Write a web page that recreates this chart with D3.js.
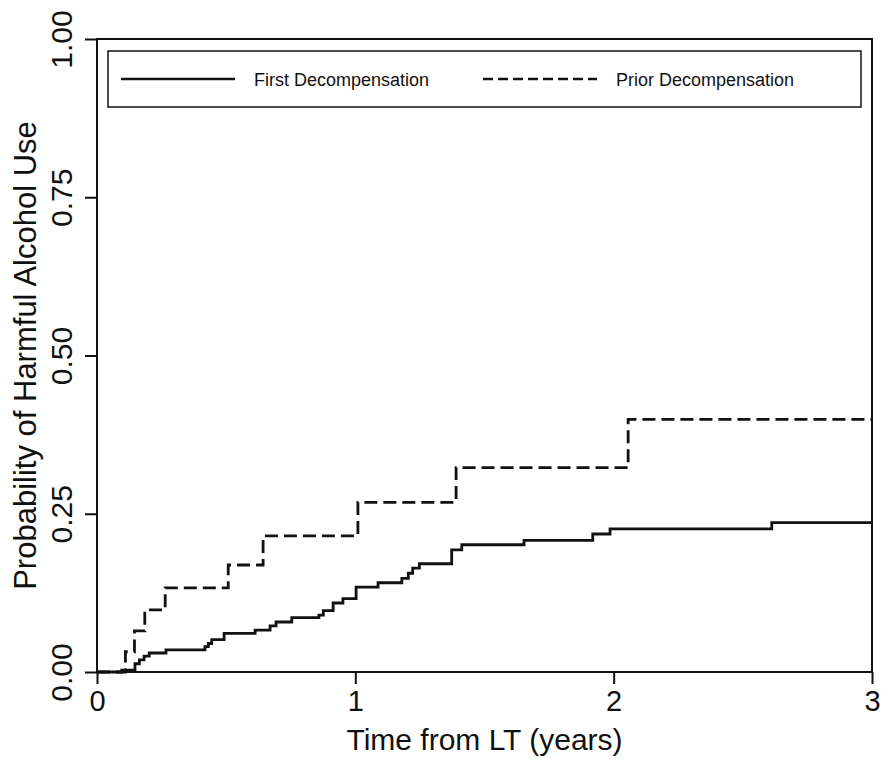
<!DOCTYPE html>
<html>
<head>
<meta charset="utf-8">
<script src="https://cdn.jsdelivr.net/npm/d3@7"></script>
<style>
body{margin:0;background:#fff}
text{font-family:"Liberation Sans",Arial,sans-serif;fill:#111}
</style>
</head>
<body>
<svg id="chart" width="891" height="762"></svg>
<script>
// step times (years) and cumulative probability
const firstTimes=[0,0.096,0.147,0.164,0.182,0.202,0.267,0.418,0.431,0.444,0.492,0.612,0.670,0.693,0.754,0.859,0.876,0.914,0.952,1.003,1.088,1.180,1.205,1.222,1.248,1.373,1.412,1.653,1.919,1.986,2.612]
const firstProb=[0,0.003,0.013,0.019,0.025,0.030,0.035,0.040,0.045,0.051,0.061,0.066,0.073,0.079,0.086,0.090,0.097,0.109,0.116,0.134,0.141,0.148,0.156,0.164,0.171,0.193,0.201,0.208,0.218,0.226,0.236]
const priorTimes=[0,0.110,0.145,0.185,0.264,0.508,0.643,1.010,1.390,2.056]
const priorProb=[0,0.032,0.065,0.098,0.133,0.169,0.215,0.268,0.323,0.399]
const xTicks=[0,1,2,3]
const yTicks=[0,0.25,0.5,0.75,1]
const legend=["First Decompensation","Prior Decompensation"]
const tmax=3

const svg=d3.select("#chart")
const xscale=d3.scaleLinear().domain([0,3]).range([97,872])
const yscale=d3.scaleLinear().domain([0,1]).range([672,39])

const series=[
  {pts:firstTimes.map((t,i)=>[t,firstProb[i]]),dash:null},
  {pts:priorTimes.map((t,i)=>[t,priorProb[i]]),dash:"13,6"}
]
series.forEach(s=>s.pts.push([tmax,s.pts[s.pts.length-1][1]]))

const line=d3.line()
  .x(d=>xscale(d[0]))
  .y(d=>yscale(d[1]))
  .curve(d3.curveStepAfter)

svg.selectAll("path.curve")
  .data(series)
  .enter()
  .append("path")
  .attr("class","curve")
  .attr("d",d=>line(d.pts))
  .attr("fill","none")
  .attr("stroke","#111")
  .attr("stroke-width",2.8)
  .attr("stroke-dasharray",d=>d.dash)

// frame
svg.append("rect")
  .attr("x",xscale(0)).attr("y",yscale(1))
  .attr("width",xscale(3)-xscale(0)).attr("height",yscale(0)-yscale(1))
  .attr("fill","none").attr("stroke","#111").attr("stroke-width",2)

const xaxis=d3.axisBottom(xscale).tickValues(xTicks).tickFormat(d3.format("d")).tickSizeOuter(0).tickSize(12).tickPadding(6)
const gx=svg.append("g").attr("transform","translate(0,672)").call(xaxis)
gx.select(".domain").remove()
gx.selectAll("line").attr("stroke","#111").attr("stroke-width",2)
gx.selectAll("text").style("font-size","29px").attr("fill","#111")

const yaxis=d3.axisLeft(yscale).tickValues(yTicks).tickFormat(d3.format(".2f")).tickSizeOuter(0).tickSize(12)
const gy=svg.append("g").attr("transform","translate(97,0)").call(yaxis)
gy.select(".domain").remove()
gy.selectAll("line").attr("stroke","#111").attr("stroke-width",2)
gy.selectAll("text")
  .attr("x",null).attr("dy",null)
  .attr("text-anchor","middle")
  .attr("transform","translate(-25,0) rotate(-90)")
  .style("font-size","30px").attr("fill","#111")

svg.append("text")
  .attr("x",(xscale(0)+xscale(3))/2).attr("y",750)
  .attr("text-anchor","middle").style("font-size","30px")
  .text("Time from LT (years)")

svg.append("text")
  .attr("transform","translate(36,"+((yscale(0)+yscale(1))/2)+") rotate(-90)")
  .attr("text-anchor","middle").style("font-size","31px")
  .text("Probability of Harmful Alcohol Use")

// legend
svg.append("rect")
  .attr("x",108).attr("y",51).attr("width",753).attr("height",56)
  .attr("fill","#fff").attr("stroke","#111").attr("stroke-width",1.5)
const lg=svg.selectAll("g.leg")
  .data(legend)
  .enter()
  .append("g")
  .attr("class","leg")
  .attr("transform",(d,i)=>"translate("+(121+i*362)+",79)")
lg.append("line")
  .attr("x1",0).attr("x2",114)
  .attr("stroke","#111").attr("stroke-width",2.5)
  .attr("stroke-dasharray",(d,i)=>series[i].dash?"10,5":null)
lg.append("text")
  .attr("x",133).attr("y",7)
  .style("font-size","18px")
  .text(d=>d)
</script>
</body>
</html>
